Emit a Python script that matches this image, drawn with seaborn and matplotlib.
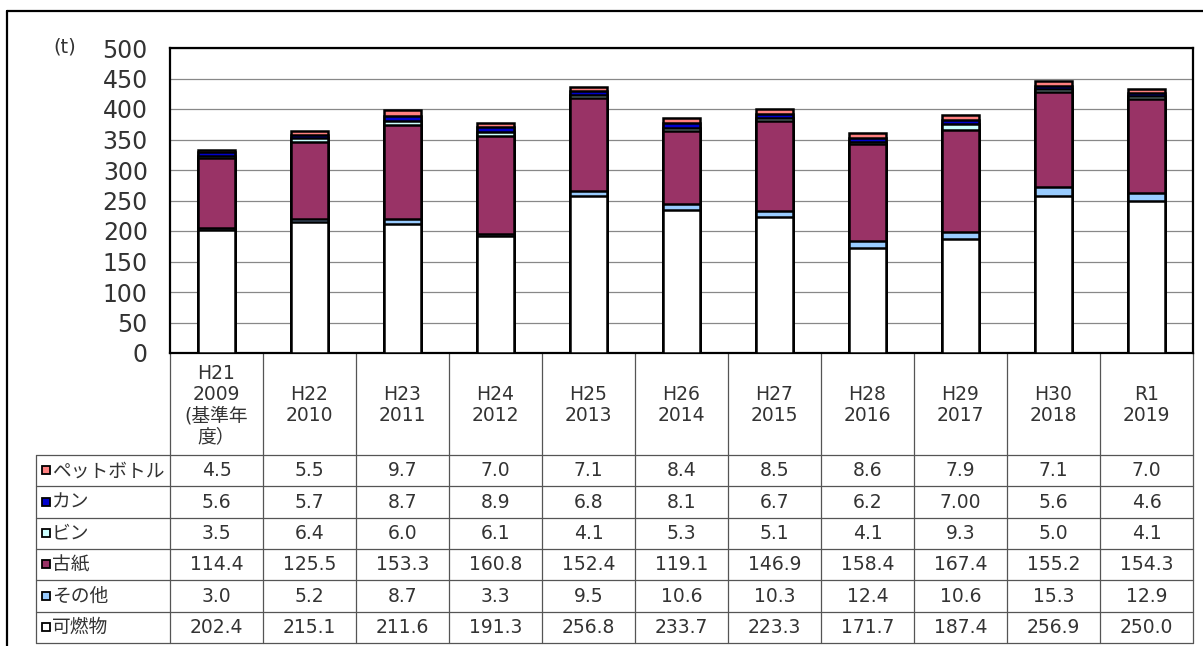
import matplotlib
matplotlib.use("Agg")
import matplotlib.pyplot as plt
import matplotlib.transforms as mtrans
from matplotlib.patches import Rectangle
import seaborn as sns
import pandas as pd
import numpy as np

# ---------------- data ----------------
years = ["H21\n2009\n(基準年\n度）", "H22\n2010", "H23\n2011", "H24\n2012", "H25\n2013",
         "H26\n2014", "H27\n2015", "H28\n2016", "H29\n2017", "H30\n2018", "R1\n2019"]
pet_bottle = ["4.5", "5.5", "9.7", "7.0", "7.1", "8.4", "8.5", "8.6", "7.9", "7.1", "7.0"]
can = ["5.6", "5.7", "8.7", "8.9", "6.8", "8.1", "6.7", "6.2", "7.00", "5.6", "4.6"]
bottle = ["3.5", "6.4", "6.0", "6.1", "4.1", "5.3", "5.1", "4.1", "9.3", "5.0", "4.1"]
paper = ["114.4", "125.5", "153.3", "160.8", "152.4", "119.1", "146.9", "158.4", "167.4", "155.2", "154.3"]
other = ["3.0", "5.2", "8.7", "3.3", "9.5", "10.6", "10.3", "12.4", "10.6", "15.3", "12.9"]
burnable = ["202.4", "215.1", "211.6", "191.3", "256.8", "233.7", "223.3", "171.7", "187.4", "256.9", "250.0"]

series_names = ["ペットボトル", "カン", "ビン", "古紙", "その他", "可燃物"]   # table order (top -> bottom)
series_text = [pet_bottle, can, bottle, paper, other, burnable]
series_colors = ["#FF8080", "#0000CC", "#CCFFFF", "#993366", "#99CCFF", "#FFFFFF"]
y_ticks = [0, 50, 100, 150, 200, 250, 300, 350, 400, 450, 500]
y_unit = "(t)"

# ---------------- figure ----------------
sns.set_theme(style="white")
plt.rcParams['font.family'] = ['DejaVu Sans', 'Noto Sans CJK JP']

W, H = 1203, 646
fig = plt.figure(figsize=(W / 100, H / 100), dpi=100)

# full-figure pixel axes for frame & table
fax = fig.add_axes([0, 0, 1, 1])
fax.set_xlim(0, W)
fax.set_ylim(H, 0)
fax.axis("off")

# main plot axes: x 170..1193, y 48..353 (pixels)
L, R, T, B = 170, 1193, 48, 353
ax = fig.add_axes([L / W, 1 - B / H, (R - L) / W, (B - T) / H])

n = len(years)
cats = [f"c{i}" for i in range(n)]
vals = [[float(v) for v in s] for s in series_text]
# stacking order bottom -> top is reverse of table order
stack_vals = vals[::-1]
stack_cols = series_colors[::-1]
cum = np.cumsum(np.array(stack_vals), axis=0)

# draw from top cumulative to bottom so that lower segments sit on top
for k in range(len(stack_vals) - 1, -1, -1):
    df = pd.DataFrame({"cat": cats, "val": cum[k]})
    sns.barplot(data=df, x="cat", y="val", color=stack_cols[k], saturation=1,
                width=0.4, edgecolor="black", linewidth=1.8, ax=ax, zorder=3)

ax.set_xlim(-0.5, n - 0.5)
ax.set_ylim(0, 500)
ax.set_yticks(y_ticks)
ax.set_yticklabels([str(t) for t in y_ticks], fontsize=17, color="#333333")
ax.tick_params(axis="y", length=0, pad=16)
ax.set_xticks([])
ax.set_xlabel("")
ax.set_ylabel("")
ax.yaxis.grid(True, color="#888888", linewidth=0.9, zorder=0)
ax.set_axisbelow(True)
for sp in ax.spines.values():
    sp.set_visible(True)
    sp.set_color("black")
    sp.set_linewidth(1.6)

fig.text(53 / W, 1 - 47 / H, y_unit, fontsize=14, color="#333333", va="center", ha="left")

# ---------------- table ----------------
bt = mtrans.blended_transform_factory(ax.transData, fax.transData)
line_kw = dict(color="#555555", linewidth=0.9, clip_on=False)

header_top, header_bot = B, 455
row_h = (643 - header_bot) / 6.0
table_left = 36
table_bottom = 643

# vertical lines at category boundaries
for i in range(n + 1):
    xb = i - 0.5
    fax.plot([xb, xb], [header_top, table_bottom], transform=bt, **line_kw)
# left border of table rows
fax.plot([table_left, table_left], [header_bot, table_bottom], **line_kw)
# horizontal lines
x_right = fax.transData.inverted().transform(ax.transData.transform((n - 0.5, 0)))[0]
for r in range(7):
    yy = header_bot + r * row_h
    fax.plot([table_left, x_right], [yy, yy], **line_kw)

# header labels
for i, lab in enumerate(years):
    fax.text(i, (header_top + header_bot) / 2 + 1, lab, transform=bt, ha="center", va="center",
             fontsize=13.5, color="#333333", linespacing=1.15)

# rows
for r, (name, col, txt) in enumerate(zip(series_names, series_colors, series_text)):
    yc = header_bot + (r + 0.5) * row_h
    fax.add_patch(Rectangle((42, yc - 4.5), 8, 8, facecolor=col, edgecolor="black",
                            linewidth=1.3, clip_on=False))
    fax.text(52, yc, name, ha="left", va="center", fontsize=13.5, color="#333333")
    for i, t in enumerate(txt):
        fax.text(i, yc, t, transform=bt, ha="center", va="center", fontsize=13.5, color="#333333")

# outer frame (top & left)
fax.plot([7, W], [11, 11], color="black", linewidth=1.6, clip_on=False)
fax.plot([7, 7], [11, H], color="black", linewidth=1.6, clip_on=False)

fig.savefig("out.png", dpi=100)
